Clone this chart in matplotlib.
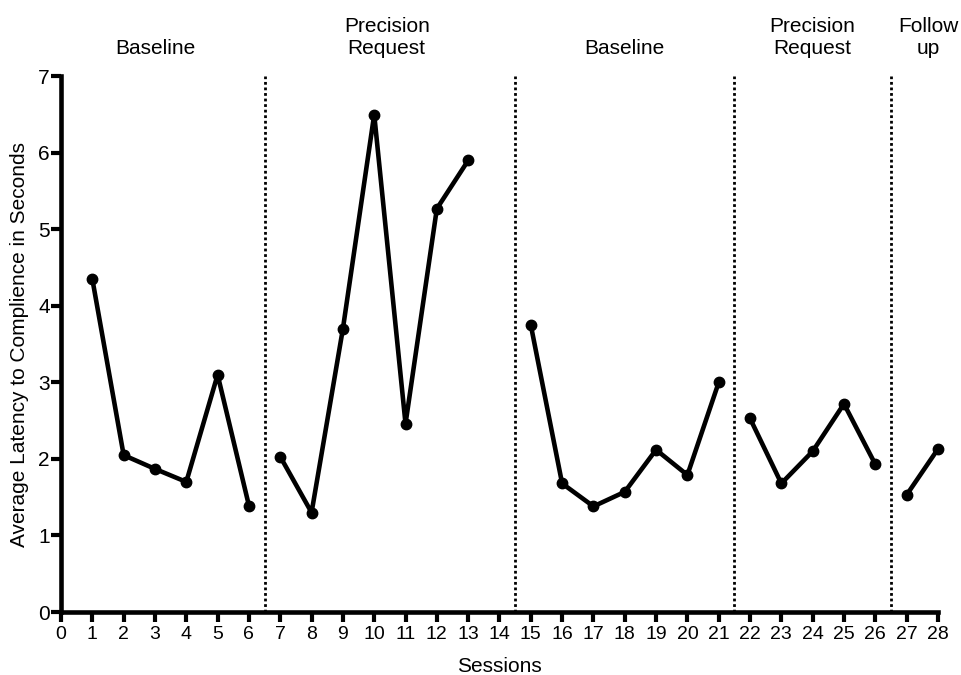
import matplotlib
matplotlib.use("Agg")
import matplotlib.pyplot as plt
import matplotlib.transforms as mtransforms

plt.rcParams['font.family'] = ['Liberation Sans', 'DejaVu Sans']

phase1_x = [1, 2, 3, 4, 5, 6]
phase1_y = [4.35, 2.05, 1.87, 1.70, 3.10, 1.39]
phase2_x = [7, 8, 9, 10, 11, 12, 13]
phase2_y = [2.03, 1.30, 3.70, 6.50, 2.46, 5.27, 5.90]
phase3_x = [15, 16, 17, 18, 19, 20, 21]
phase3_y = [3.75, 1.68, 1.38, 1.57, 2.12, 1.79, 3.00]
phase4_x = [22, 23, 24, 25, 26]
phase4_y = [2.53, 1.68, 2.10, 2.72, 1.93]
phase5_x = [27, 28]
phase5_y = [1.53, 2.13]

phase_lines = [6.5, 14.5, 21.5, 26.5]
phase_labels = ["Baseline", "Precision\nRequest", "Baseline", "Precision\nRequest", "Follow\nup"]
phase_label_x = [3, 10.4, 18, 24, 27.7]

fig = plt.figure(figsize=(9.61, 6.75), dpi=100)
ax = fig.add_axes([0.0635, 0.0933, 0.9125, 0.7937])

for xs, ys in [(phase1_x, phase1_y), (phase2_x, phase2_y), (phase3_x, phase3_y),
               (phase4_x, phase4_y), (phase5_x, phase5_y)]:
    ax.plot(xs, ys, color='black', lw=3.3, marker='o', ms=7.5, clip_on=False, zorder=3)

for xl in phase_lines:
    ax.axvline(xl, color='black', lw=2, linestyle=(0, (1, 1)), zorder=2)

trans = mtransforms.blended_transform_factory(ax.transData, fig.transFigure)
for lx, lab in zip(phase_label_x, phase_labels):
    ax.text(lx, 0.914, lab, ha='center', va='bottom', fontsize=15,
            linespacing=1.2, transform=trans)

ax.set_xlim(0, 28)
ax.set_ylim(0, 7)
ax.set_xticks(range(0, 29))
ax.set_yticks(range(0, 8))
ax.spines['top'].set_visible(False)
ax.spines['right'].set_visible(False)
ax.spines['left'].set_linewidth(3.3)
ax.spines['bottom'].set_linewidth(3.3)
ax.tick_params(axis='both', direction='out', width=3, length=7, pad=2)
ax.tick_params(axis='y', labelsize=15, pad=1)
ax.tick_params(axis='x', labelsize=14, pad=3)
ax.set_xlabel("Sessions", fontsize=15, labelpad=10)
ax.set_ylabel("Average Latency to Complience in Seconds", fontsize=15)
ax.yaxis.set_label_coords(-0.036, 0.5)

fig.savefig("out.png", dpi=100)
